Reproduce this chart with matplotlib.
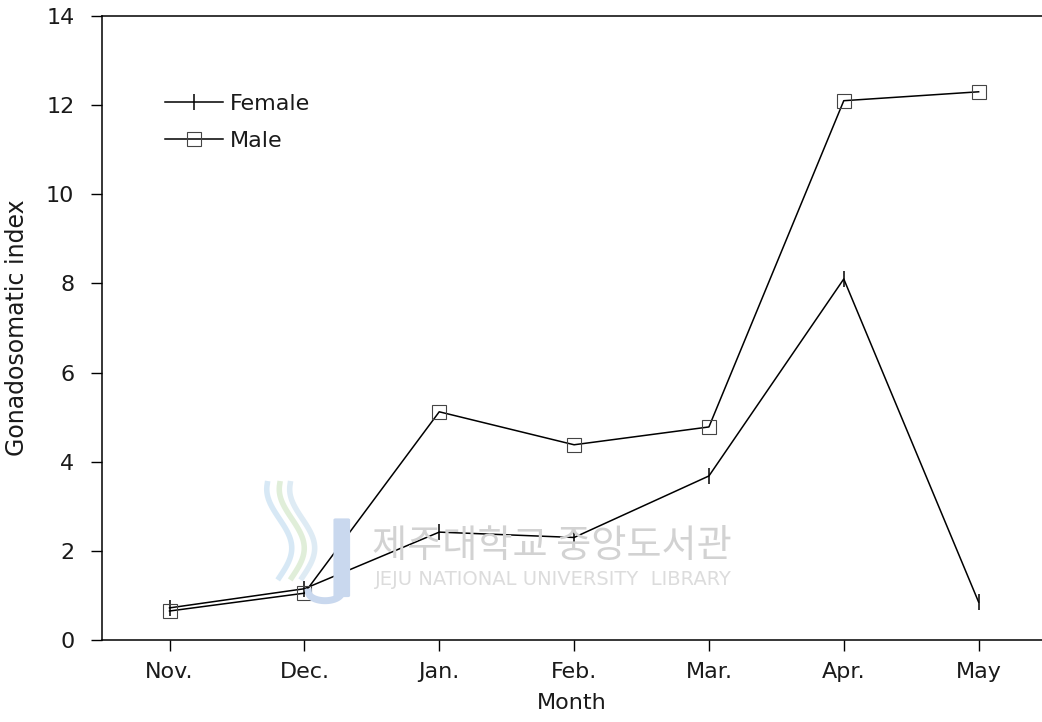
import numpy as np
import matplotlib as mpl
mpl.use('Agg')
import matplotlib.pyplot as plt

# Monthly gonadosomatic index by sex
months = ["Nov.", "Dec.", "Jan.", "Feb.", "Mar.", "Apr.", "May"]
female_gsi = [0.72, 1.15, 2.42, 2.30, 3.68, 8.10, 0.85]
male_gsi = [0.65, 1.05, 5.12, 4.38, 4.78, 12.10, 12.30]
yticks = [0, 2, 4, 6, 8, 10, 12, 14]

plt.rcParams['font.family'] = ['DejaVu Sans']
ink = '#1a1a1a'

fig = plt.figure(figsize=(10.42, 7.22), dpi=100)
ax = fig.add_axes([0.098, 0.1136, 0.902, 0.8642])

# library watermark behind the data
fig.text(0.53, 0.243, "제주대학교 중앙도서관", family=['Noto Sans CJK KR', 'DejaVu Sans'],
         fontsize=27.5, color='#d2d2d2', ha='center', va='center', zorder=0)
fig.text(0.531, 0.197, "JEJU NATIONAL UNIVERSITY  LIBRARY", fontsize=14,
         color='#dcdcdc', ha='center', va='center', zorder=0)
fig.patches.append(mpl.patches.FancyBboxPatch((0.322, 0.175), 0.012, 0.105, boxstyle='round,pad=0.002',
                                              transform=fig.transFigure, fc='#c9d8ee', ec='none', zorder=0))
t = np.linspace(0, np.pi, 30)
fig.lines.append(plt.Line2D(0.312 + 0.016 * np.cos(t + np.pi), 0.18 - 0.012 * np.sin(t),
                            transform=fig.transFigure, color='#c9d8ee', lw=5, zorder=0))
s = np.linspace(0, 1, 40)
for dx, c in [(0.0, '#cde3f3'), (0.012, '#d9ead0'), (0.022, '#d6e6f2')]:
    fig.lines.append(plt.Line2D(0.268 + dx + 0.012 * np.sin(s * 5.0), 0.2 + 0.13 * s,
                                transform=fig.transFigure, color=c, lw=4, zorder=0, alpha=0.8))

x = np.arange(len(months))
ax.plot(x, female_gsi, color='black', lw=1.1, marker='|', ms=11, mew=1.1, label="Female")
ax.plot(x, male_gsi, color='black', lw=1.1, marker='s', ms=10, mfc='none', mec='#444444',
        mew=0.8, label="Male")

ax.set_xlim(-0.5, 6.47)
ax.set_ylim(0, 14)
ax.set_xticks(x)
ax.set_xticklabels(months)
ax.set_yticks(yticks)
ax.tick_params(direction='out', length=8, width=1, labelsize=16, pad=8, labelcolor=ink)
ax.tick_params(axis='y', pad=12)
ax.spines['right'].set_visible(False)
for s_ in ['left', 'bottom', 'top']:
    ax.spines[s_].set_linewidth(1.1)

ax.set_xlabel("Month", fontsize=16, labelpad=8, color=ink)
ax.set_ylabel("Gonadosomatic index", fontsize=17, labelpad=12, color=ink)
ax.patch.set_alpha(0)

ax.legend(loc='upper left', bbox_to_anchor=(0.067, 0.875), frameon=False, fontsize=16,
          handlelength=2.6, handletextpad=0.3, labelspacing=0.75, borderaxespad=0,
          borderpad=0, labelcolor=ink)

fig.savefig("out.png", dpi=100)
